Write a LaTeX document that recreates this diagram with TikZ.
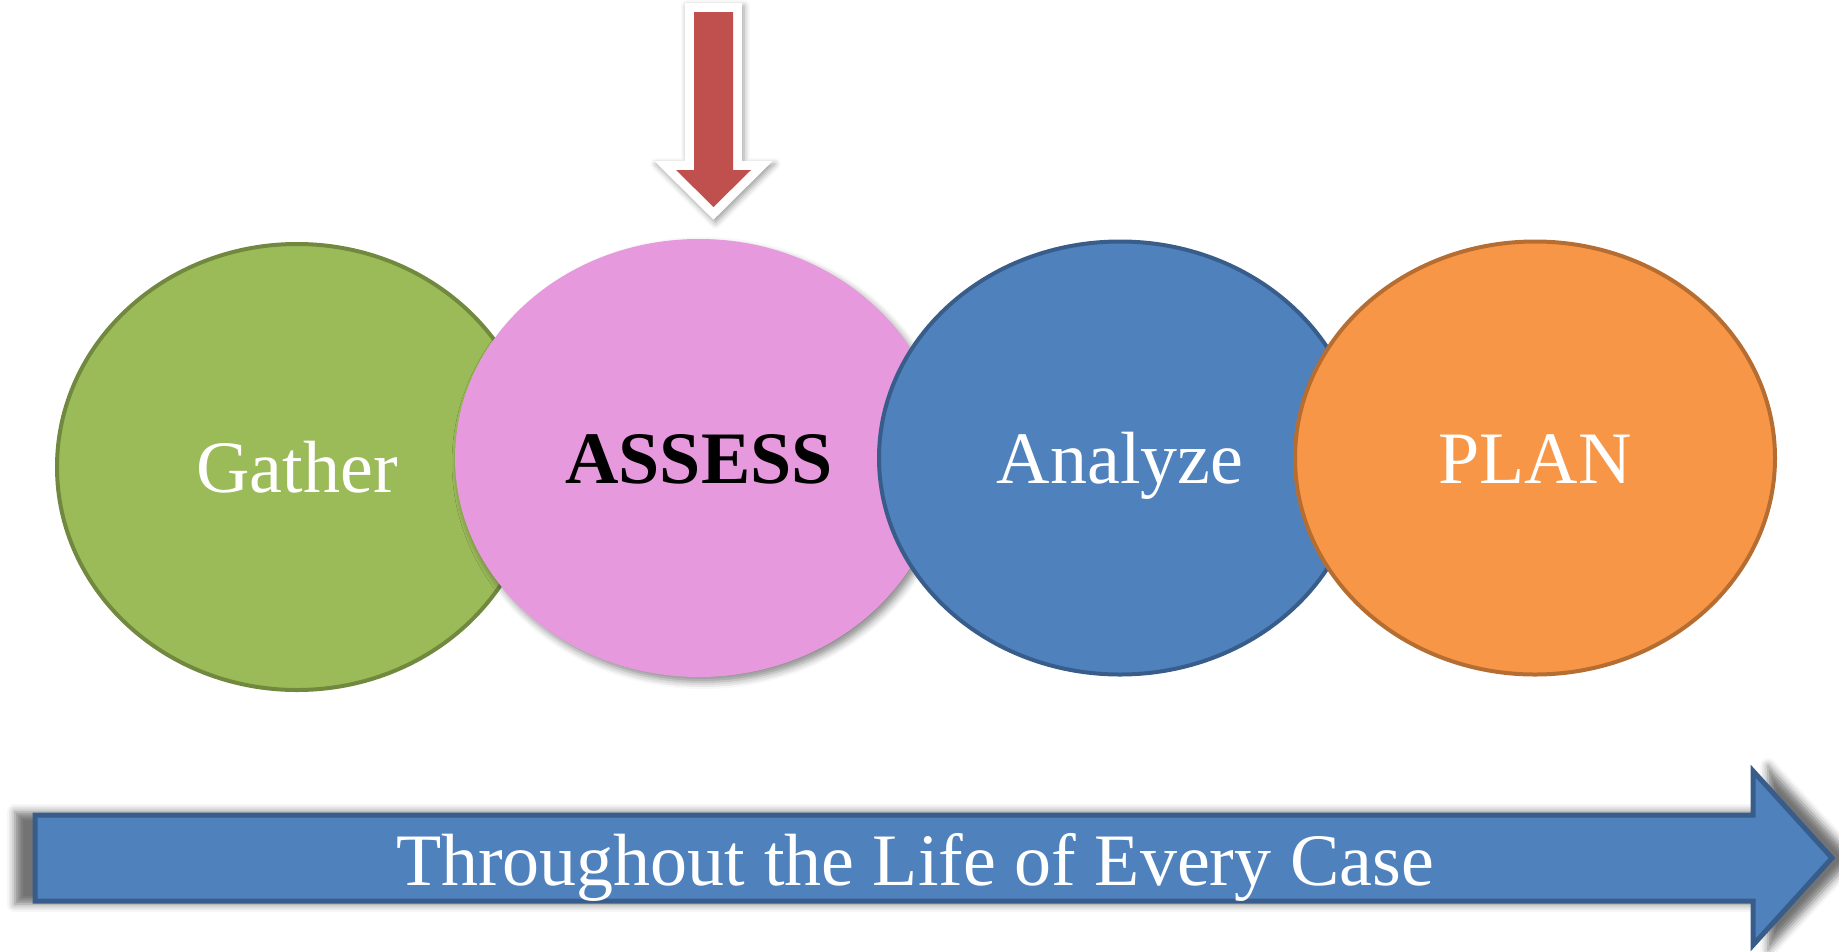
\documentclass[tikz,border=0pt]{standalone}
\usepackage{fontspec}
\setmainfont{Liberation Serif}
\usetikzlibrary{shapes.geometric,shadows.blur}
\definecolor{gfill}{HTML}{9BBB59}
\definecolor{gline}{HTML}{71893F}
\definecolor{pfill}{HTML}{E699DC}
\definecolor{bfill}{HTML}{4F81BD}
\definecolor{bline}{HTML}{385D8A}
\definecolor{ofill}{HTML}{F79646}
\definecolor{oline}{HTML}{B66D31}
\definecolor{rfill}{HTML}{C0504D}
\begin{document}
\begin{tikzpicture}[x=1pt,y=-1pt,
  stage/.style={ellipse, inner sep=0pt, line width=4pt, text height=50pt, text depth=0pt,
    font=\fontsize{74}{80}\selectfont, text=white},
  bigtext/.style={font=\fontsize{74}{80}\selectfont, text=white, inner sep=0pt, anchor=base},
]
\useasboundingbox (0,0) rectangle (1839,951);
% ellipses
\node[stage, fill=gfill, draw=gline, minimum width=480pt, minimum height=446pt] (gather) at (297,467) {Gather};
\node[stage, fill=pfill, draw=none, minimum width=488pt, minimum height=438pt, text=black,
  font=\fontsize{74}{80}\selectfont\bfseries,
  blur shadow={shadow xshift=4pt, shadow yshift=-5pt, shadow blur radius=7pt, shadow opacity=45}] (assess) at (699,458) {ASSESS};
\node[stage, fill=bfill, draw=bline, minimum width=482pt, minimum height=433pt] (analyze) at (1120,458) {Analyze};
\node[stage, fill=ofill, draw=oline, minimum width=480pt, minimum height=433pt] (plan) at (1535,458) {PLAN};
% red arrow
\path[fill=white, blur shadow={shadow xshift=2pt, shadow yshift=-3pt, shadow blur radius=6pt, shadow opacity=40}]
  (685,3) -- (742,3) -- (742,161) -- (772.7,161) -- (713.5,219.7) -- (654.3,161) -- (685,161) -- cycle;
\fill[rfill] (694,12) -- (733,12) -- (733,170) -- (751,170) -- (713.5,207) -- (676,170) -- (694,170) -- cycle;
% bottom arrow
\path[blur shadow={shadow xshift=0pt, shadow yshift=0pt, shadow blur radius=8pt, shadow opacity=55}]
  (15,812) -- (1768,812) -- (1768,766) -- (1853,858) -- (1768,950) -- (1768,904) -- (15,904) -- cycle;
\draw[fill=bfill, draw=bline, line width=5pt, line join=miter]
  (35,815) -- (1753,815) -- (1753,771) -- (1832,858) -- (1753,945) -- (1753,901) -- (35,901) -- cycle;
\node[bigtext] (life) at (915,885) {Throughout the Life of Every Case};
\end{tikzpicture}
\end{document}
